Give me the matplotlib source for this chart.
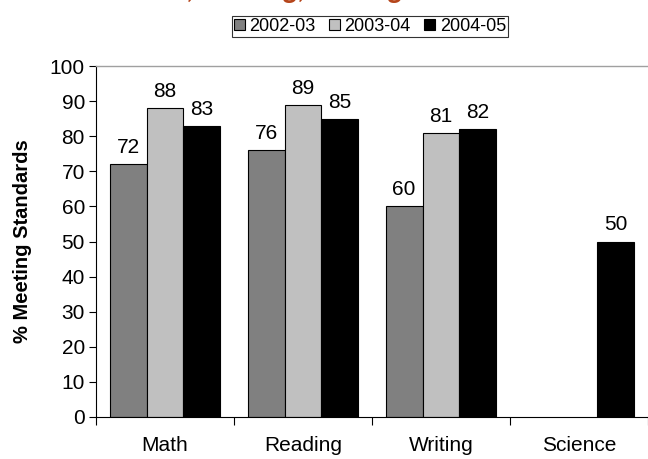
import matplotlib
matplotlib.use("Agg")
import matplotlib.pyplot as plt
import numpy as np

plt.rcParams['font.family'] = ['Liberation Sans', 'DejaVu Sans']

categories = ["Math", "Reading", "Writing", "Science"]
series_names = ["2002-03", "2003-04", "2004-05"]
v2002 = [72, 76, 60, np.nan]
v2003 = [88, 89, 81, np.nan]
v2004 = [83, 85, 82, 50]
colors = ["#808080", "#C0C0C0", "#000000"]

fig = plt.figure(figsize=(6.48, 4.59), dpi=100)
ax = fig.add_axes([96/648, 1 - 417/459, 552/648, 351/459])

x = np.arange(len(categories))
w = 0.268
for i, (vals, name, c) in enumerate(zip([v2002, v2003, v2004], series_names, colors)):
    pos = x + (i - 1) * w
    ax.bar(pos, vals, width=w, color=c, edgecolor="black", linewidth=0.8, label=name)
    for p, v in zip(pos, vals):
        if not np.isnan(v):
            ax.text(p, v + 2.0, f"{v:.0f}", ha="center", va="bottom", fontsize=15)

ax.set_xlim(-0.5, len(categories) - 0.5)
ax.set_ylim(0, 100)
ax.set_yticks(np.arange(0, 101, 10))
ax.tick_params(axis='y', labelsize=15, direction='out', length=5, width=0.8, pad=3)
ax.set_xticks(np.arange(-0.5, len(categories), 1.0))
ax.set_xticklabels([])
ax.tick_params(axis='x', direction='out', length=6, width=0.8)
for xi, cat in zip(x, categories):
    ax.text(xi, -5.3, cat, ha="center", va="top", fontsize=15, transform=ax.transData)
ax.spines['top'].set_color("#A0A0A0")
ax.spines['top'].set_linewidth(1.0)
ax.spines['right'].set_visible(False)
ax.set_ylabel("% Meeting Standards", fontsize=14.5, fontweight='bold', labelpad=13)

leg = fig.legend(loc="center", bbox_to_anchor=(370/648, 1 - 26.5/459), ncol=3,
                 fontsize=13, frameon=True, fancybox=False, edgecolor="black",
                 handlelength=0.6, handleheight=0.6, handletextpad=0.25,
                 columnspacing=0.75, borderpad=0.12, borderaxespad=0)
leg.get_frame().set_linewidth(0.8)

fig.text(122/648, 1 + 2.5/459, "Math, Reading, Writing and Science", color="#B5451B",
         fontsize=20.5, fontweight='bold', fontstyle='italic', ha="left", va="baseline",
         family=['Lato', 'DejaVu Sans'])

fig.savefig("out.png", dpi=100)
